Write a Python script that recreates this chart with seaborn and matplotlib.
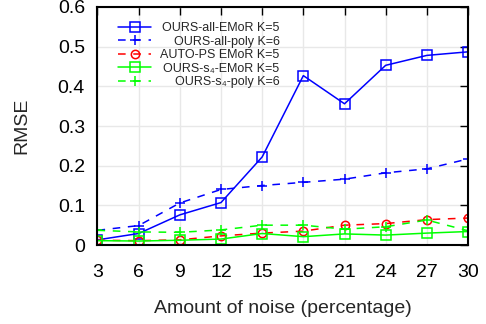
import matplotlib
matplotlib.use("Agg")
import matplotlib.pyplot as plt
import numpy as np
import pandas as pd
import seaborn as sns

noise = [3, 6, 9, 12, 15, 18, 21, 24, 27, 30]
all_emor = [0.013, 0.029, 0.076, 0.107, 0.222, 0.427, 0.356, 0.453, 0.478, 0.487]
all_poly = [0.037, 0.049, 0.106, 0.140, 0.150, 0.158, 0.166, 0.182, 0.192, 0.217]
autops_emor = [0.012, 0.011, 0.013, 0.023, 0.030, 0.035, 0.050, 0.054, 0.064, 0.068]
s4_emor = [0.011, 0.010, 0.012, 0.015, 0.029, 0.021, 0.028, 0.025, 0.030, 0.034]
s4_poly = [0.037, 0.033, 0.032, 0.038, 0.050, 0.050, 0.040, 0.046, 0.063, 0.036]

labels = ["OURS-all-EMoR K=5", "OURS-all-poly K=6", "AUTO-PS EMoR K=5",
          "OURS-s₄-EMoR K=5", "OURS-s₄-poly K=6"]
series = [all_emor, all_poly, autops_emor, s4_emor, s4_poly]
colors = ["#0000ff", "#0000ff", "#ff0000", "#00ff00", "#00ff00"]
markers = ["s", "+", "o", "s", "+"]
dashed = [False, True, True, False, True]

sns.set_style("whitegrid")
plt.rcParams["font.family"] = ["Liberation Sans", "DejaVu Sans"]

fig = plt.figure(figsize=(4.86, 3.24), dpi=100)
ax = fig.add_axes([0.2006, 0.2438, 0.7624, 0.7346])

for y, lab, c, m, d in zip(series, labels, colors, markers, dashed):
    sns.lineplot(x=noise, y=y, ax=ax, color=c, marker=m, label=lab,
                 linestyle=(0, (5, 5)) if d else "-", linewidth=1.1,
                 markersize=6.5 if m != "o" else 6, markerfacecolor="none",
                 markeredgecolor=c, markeredgewidth=1.1)

ax.set_xlim(3, 30)
ax.set_ylim(0, 0.6)
ax.set_xticks(noise)
ax.set_yticks([0, 0.1, 0.2, 0.3, 0.4, 0.5, 0.6])
ax.set_yticklabels(["0", "0.1", "0.2", "0.3", "0.4", "0.5", "0.6"])
ax.tick_params(direction="in", length=5.5, width=1, top=True, right=True,
               labelsize=14, colors="black")
ax.tick_params(axis="y", pad=9)
ax.tick_params(axis="x", pad=14)
ax.grid(True, color="#e8e8e8", linewidth=1)
for s in ax.spines.values():
    s.set_color("black")
    s.set_linewidth(1.5)
ax.set_xlabel("Amount of noise (percentage)", fontsize=14)
ax.set_ylabel("RMSE", fontsize=14)
ax.xaxis.set_label_coords(0.5, -0.23)
ax.yaxis.set_label_coords(-0.182, 0.5)

leg = ax.legend(loc="upper left", bbox_to_anchor=(0.033, 0.973), frameon=False,
                fontsize=9, handlelength=2.6, handletextpad=0.75,
                labelspacing=0.12, borderpad=0.2)

fig.canvas.draw()
r = fig.canvas.get_renderer()
widths = [t.get_window_extent(r).width for t in leg.get_texts()]
rows = leg._legend_handle_box.get_children()[0].get_children()
for row, w in zip(rows, widths):
    row.sep += (max(widths) - w) * 72 / fig.dpi

fig.savefig("out.png", dpi=100)
